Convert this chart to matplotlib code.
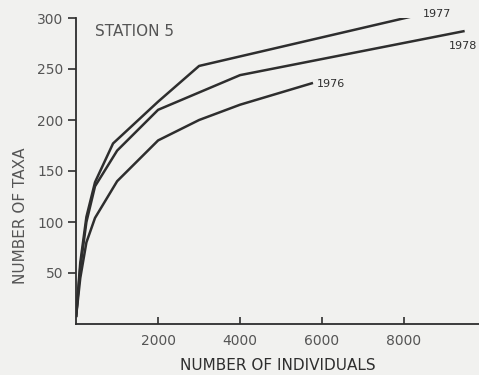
import matplotlib.pyplot as plt

# taxa accumulation curves, station 5
x_1977 = [0, 100, 250, 460, 900, 2000, 3000, 8350]
y_1977 = [8, 60, 105, 139, 177, 218, 253, 303]

x_1978 = [0, 100, 250, 460, 1000, 2000, 4000, 9450]
y_1978 = [8, 55, 100, 135, 170, 210, 244, 287]

x_1976 = [0, 100, 250, 460, 1000, 2000, 3000, 4000, 5750]
y_1976 = [8, 45, 80, 104, 140, 180, 200, 215, 236]

x_ticks = [2000, 4000, 6000, 8000]
y_ticks = [50, 100, 150, 200, 250, 300]

bg = '#f1f1ef'
ink = '#2e2e2e'
txt = '#555555'

fig = plt.figure(figsize=(4.79, 3.75), dpi=100, facecolor=bg)
ax = fig.add_axes([0.159, 0.136, 0.841, 0.816], facecolor=bg)

ax.plot(x_1977, y_1977, color=ink, lw=1.8)
ax.plot(x_1978, y_1978, color=ink, lw=1.8)
ax.plot(x_1976, y_1976, color=ink, lw=1.8)

ax.text(x_1977[-1] + 120, y_1977[-1] + 1, '1977', fontsize=8, color=ink, va='center')
ax.text(9100, y_1978[-1] - 14, '1978', fontsize=8, color=ink, va='center', clip_on=False)
ax.text(x_1976[-1] + 120, y_1976[-1] - 1, '1976', fontsize=8, color=ink, va='center')
ax.text(450, 287, 'STATION 5', fontsize=11, color=txt, va='center')

ax.set_xlim(0, 9830)
ax.set_ylim(0, 300)
ax.set_xticks(x_ticks)
ax.set_yticks(y_ticks)
ax.tick_params(axis='x', direction='in', length=5, width=1.2, colors=ink, labelcolor=txt, labelsize=10, pad=7)
ax.tick_params(axis='y', direction='out', length=6, width=1.2, colors=ink, labelcolor=txt, labelsize=10, pad=3)

for s in ['top', 'right']:
    ax.spines[s].set_visible(False)
for s in ['left', 'bottom']:
    ax.spines[s].set_color(ink)
    ax.spines[s].set_linewidth(1.3)

ax.set_xlabel('NUMBER OF INDIVIDUALS', fontsize=11, color=ink, va='center')
ax.xaxis.set_label_coords(0.501, -0.137)
ax.set_ylabel('NUMBER OF TAXA', fontsize=11, color=txt, va='center')
ax.yaxis.set_label_coords(-0.139, 0.353)

fig.savefig('out.png', dpi=100, facecolor=bg)
